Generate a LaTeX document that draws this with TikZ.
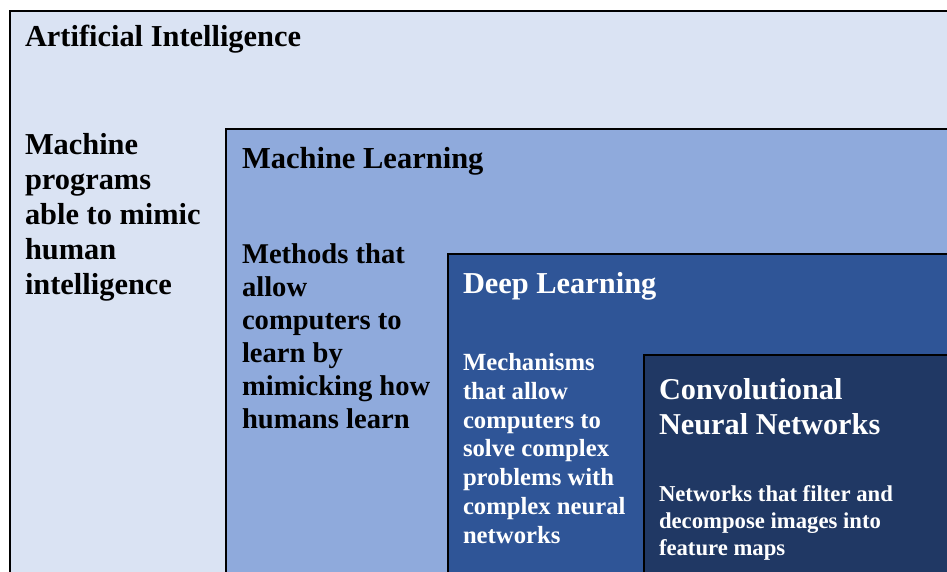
\documentclass[tikz,border=0pt]{standalone}
\usepackage{fontspec}
\setmainfont{Liberation Serif}
\definecolor{aifill}{HTML}{DAE3F3}
\definecolor{mlfill}{HTML}{8FAADC}
\definecolor{dlfill}{HTML}{2F5597}
\definecolor{cnnfill}{HTML}{203864}
\begin{document}
\begin{tikzpicture}[x=1pt,y=-1pt,
  box/.style={draw=black,line width=1.6pt},
  lbl/.style={anchor=base west,inner sep=0pt,outer sep=0pt,align=left}]
\useasboundingbox (0,0) rectangle (947,572);
\clip (0,0) rectangle (947,572);
\fill[white] (0,0) rectangle (947,572);
\draw[box,fill=aifill] (10,11) rectangle (970,600);
\draw[box,fill=mlfill] (226,129) rectangle (970,600);
\draw[box,fill=dlfill] (448,254) rectangle (970,600);
\draw[box,fill=cnnfill] (644,355) rectangle (970,600);
% AI (multi-line nodes: base anchor is the last line's baseline)
\node[lbl,font=\bfseries\fontsize{30.4}{35}\selectfont] (aititle) at (25,47) {Artificial Intelligence};
\node[lbl,font=\bfseries\fontsize{30.4}{35}\selectfont] (aidesc) at (25,294) {Machine\\programs\\able to mimic\\human\\intelligence};
% ML
\node[lbl,font=\bfseries\fontsize{30.5}{35}\selectfont] (mltitle) at (242,168) {Machine Learning};
\node[lbl,font=\bfseries\fontsize{28.6}{33}\selectfont] (mldesc) at (242,428) {Methods that\\allow\\computers to\\learn by\\mimicking how\\humans learn};
% DL
\node[lbl,text=white,font=\bfseries\fontsize{30.4}{35}\selectfont] (dltitle) at (463,293) {Deep Learning};
\node[lbl,text=white,font=\bfseries\fontsize{24.7}{28.7}\selectfont] (dldesc) at (463,543) {Mechanisms\\that allow\\computers to\\solve complex\\problems with\\complex neural\\networks};
% CNN
\node[lbl,text=white,font=\bfseries\fontsize{30.3}{35}\selectfont] (cnntitle) at (659,434) {Convolutional\\Neural Networks};
\node[lbl,text=white,font=\bfseries\fontsize{22.7}{27}\selectfont] (cnndesc) at (659,555) {Networks that filter and\\decompose images into\\feature maps};
\end{tikzpicture}
\end{document}
